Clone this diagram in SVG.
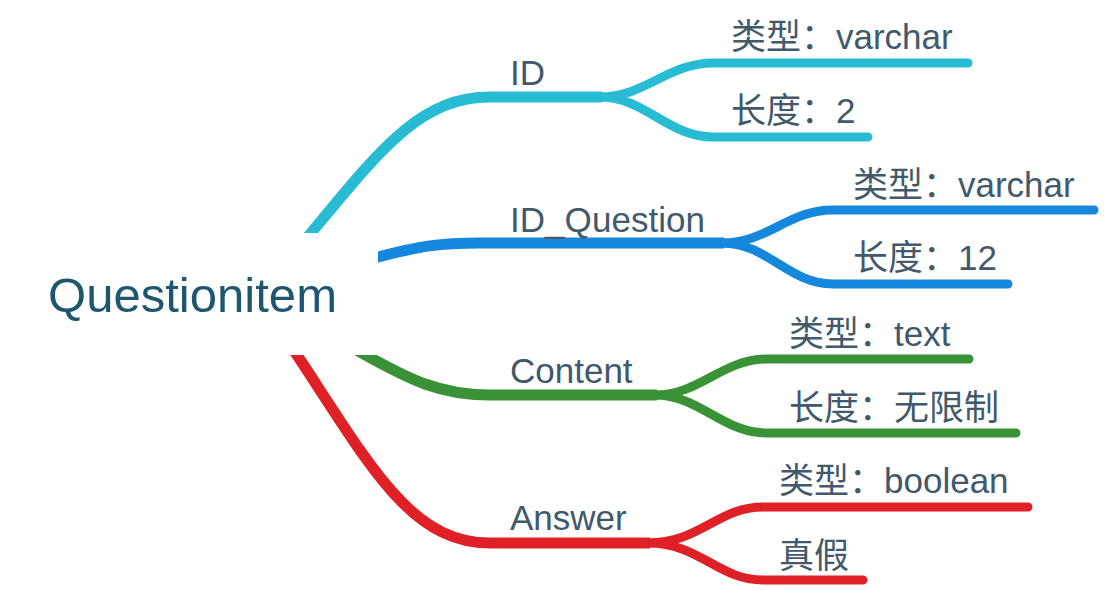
<svg xmlns="http://www.w3.org/2000/svg" width="1104" height="590" viewBox="0 0 1104 590">
<style>
.main{fill:none;stroke-width:11;stroke-linecap:butt}
.sub{fill:none;stroke-width:9;stroke-linecap:round}
.lbl{font-family:"Liberation Sans","Noto Sans CJK SC",sans-serif;font-size:35px;fill:#41596a}
.root{font-family:"Liberation Sans","Noto Sans CJK SC",sans-serif;font-size:48px;fill:#1e5670}
.c1{stroke:#27bcd3}.c2{stroke:#1587dd}.c3{stroke:#3a9237}.c4{stroke:#df2027}
</style>
<rect width="1104" height="590" fill="#ffffff"/>
<g id="connectors">
<path class="main c1" d="M277 274 L311 233 C380 150 420 97 490 97 L602 97"/>
<path class="sub c1" d="M600 97 C645 97 668 63 713 63 L968 63"/>
<path class="sub c1" d="M600 97 C645 97 668 137 713 137 L868 137"/>
<path class="main c2" d="M340 268 L378 257 C420 246 440 243 480 243 L724 243"/>
<path class="sub c2" d="M722 243 C768 243 788 210 833 210 L1094 210"/>
<path class="sub c2" d="M722 243 C768 243 788 284 833 284 L1008 284"/>
<path class="main c3" d="M330 335 L360 352 C410 380 440 395 490 395 L657 395"/>
<path class="sub c3" d="M655 395 C700 395 722 359 767 359 L969 359"/>
<path class="sub c3" d="M655 395 C700 395 722 433 767 433 L1016 433"/>
<path class="main c4" d="M270 316 L297 355 C370 465 410 543 490 543 L650 543"/>
<path class="sub c4" d="M648 543 C700 543 718 507 763 507 L1028 507"/>
<path class="sub c4" d="M648 543 C700 543 718 580 763 580 L863 580"/>
</g>
<g id="root">
<rect x="0" y="233" width="378" height="122" fill="#ffffff"/>
<text class="root" x="48" y="312" textLength="289" lengthAdjust="spacingAndGlyphs">Questionitem</text>
</g>
<g id="n-id"><text class="lbl" x="510" y="85">ID</text></g>
<g id="n-id-type"><text class="lbl" x="731" y="49">类型：varchar</text></g>
<g id="n-id-len"><text class="lbl" x="731" y="123">长度：2</text></g>
<g id="n-idq"><text class="lbl" x="510" y="232" textLength="195">ID_Question</text></g>
<g id="n-idq-type"><text class="lbl" x="853" y="197">类型：varchar</text></g>
<g id="n-idq-len"><text class="lbl" x="853" y="270">长度：12</text></g>
<g id="n-content"><text class="lbl" x="510" y="383">Content</text></g>
<g id="n-content-type"><text class="lbl" x="789" y="346">类型：text</text></g>
<g id="n-content-len"><text class="lbl" x="789" y="420">长度：无限制</text></g>
<g id="n-answer"><text class="lbl" x="510" y="530">Answer</text></g>
<g id="n-answer-type"><text class="lbl" x="779" y="493">类型：boolean</text></g>
<g id="n-answer-tf"><text class="lbl" x="779" y="568">真假</text></g>
</svg>
